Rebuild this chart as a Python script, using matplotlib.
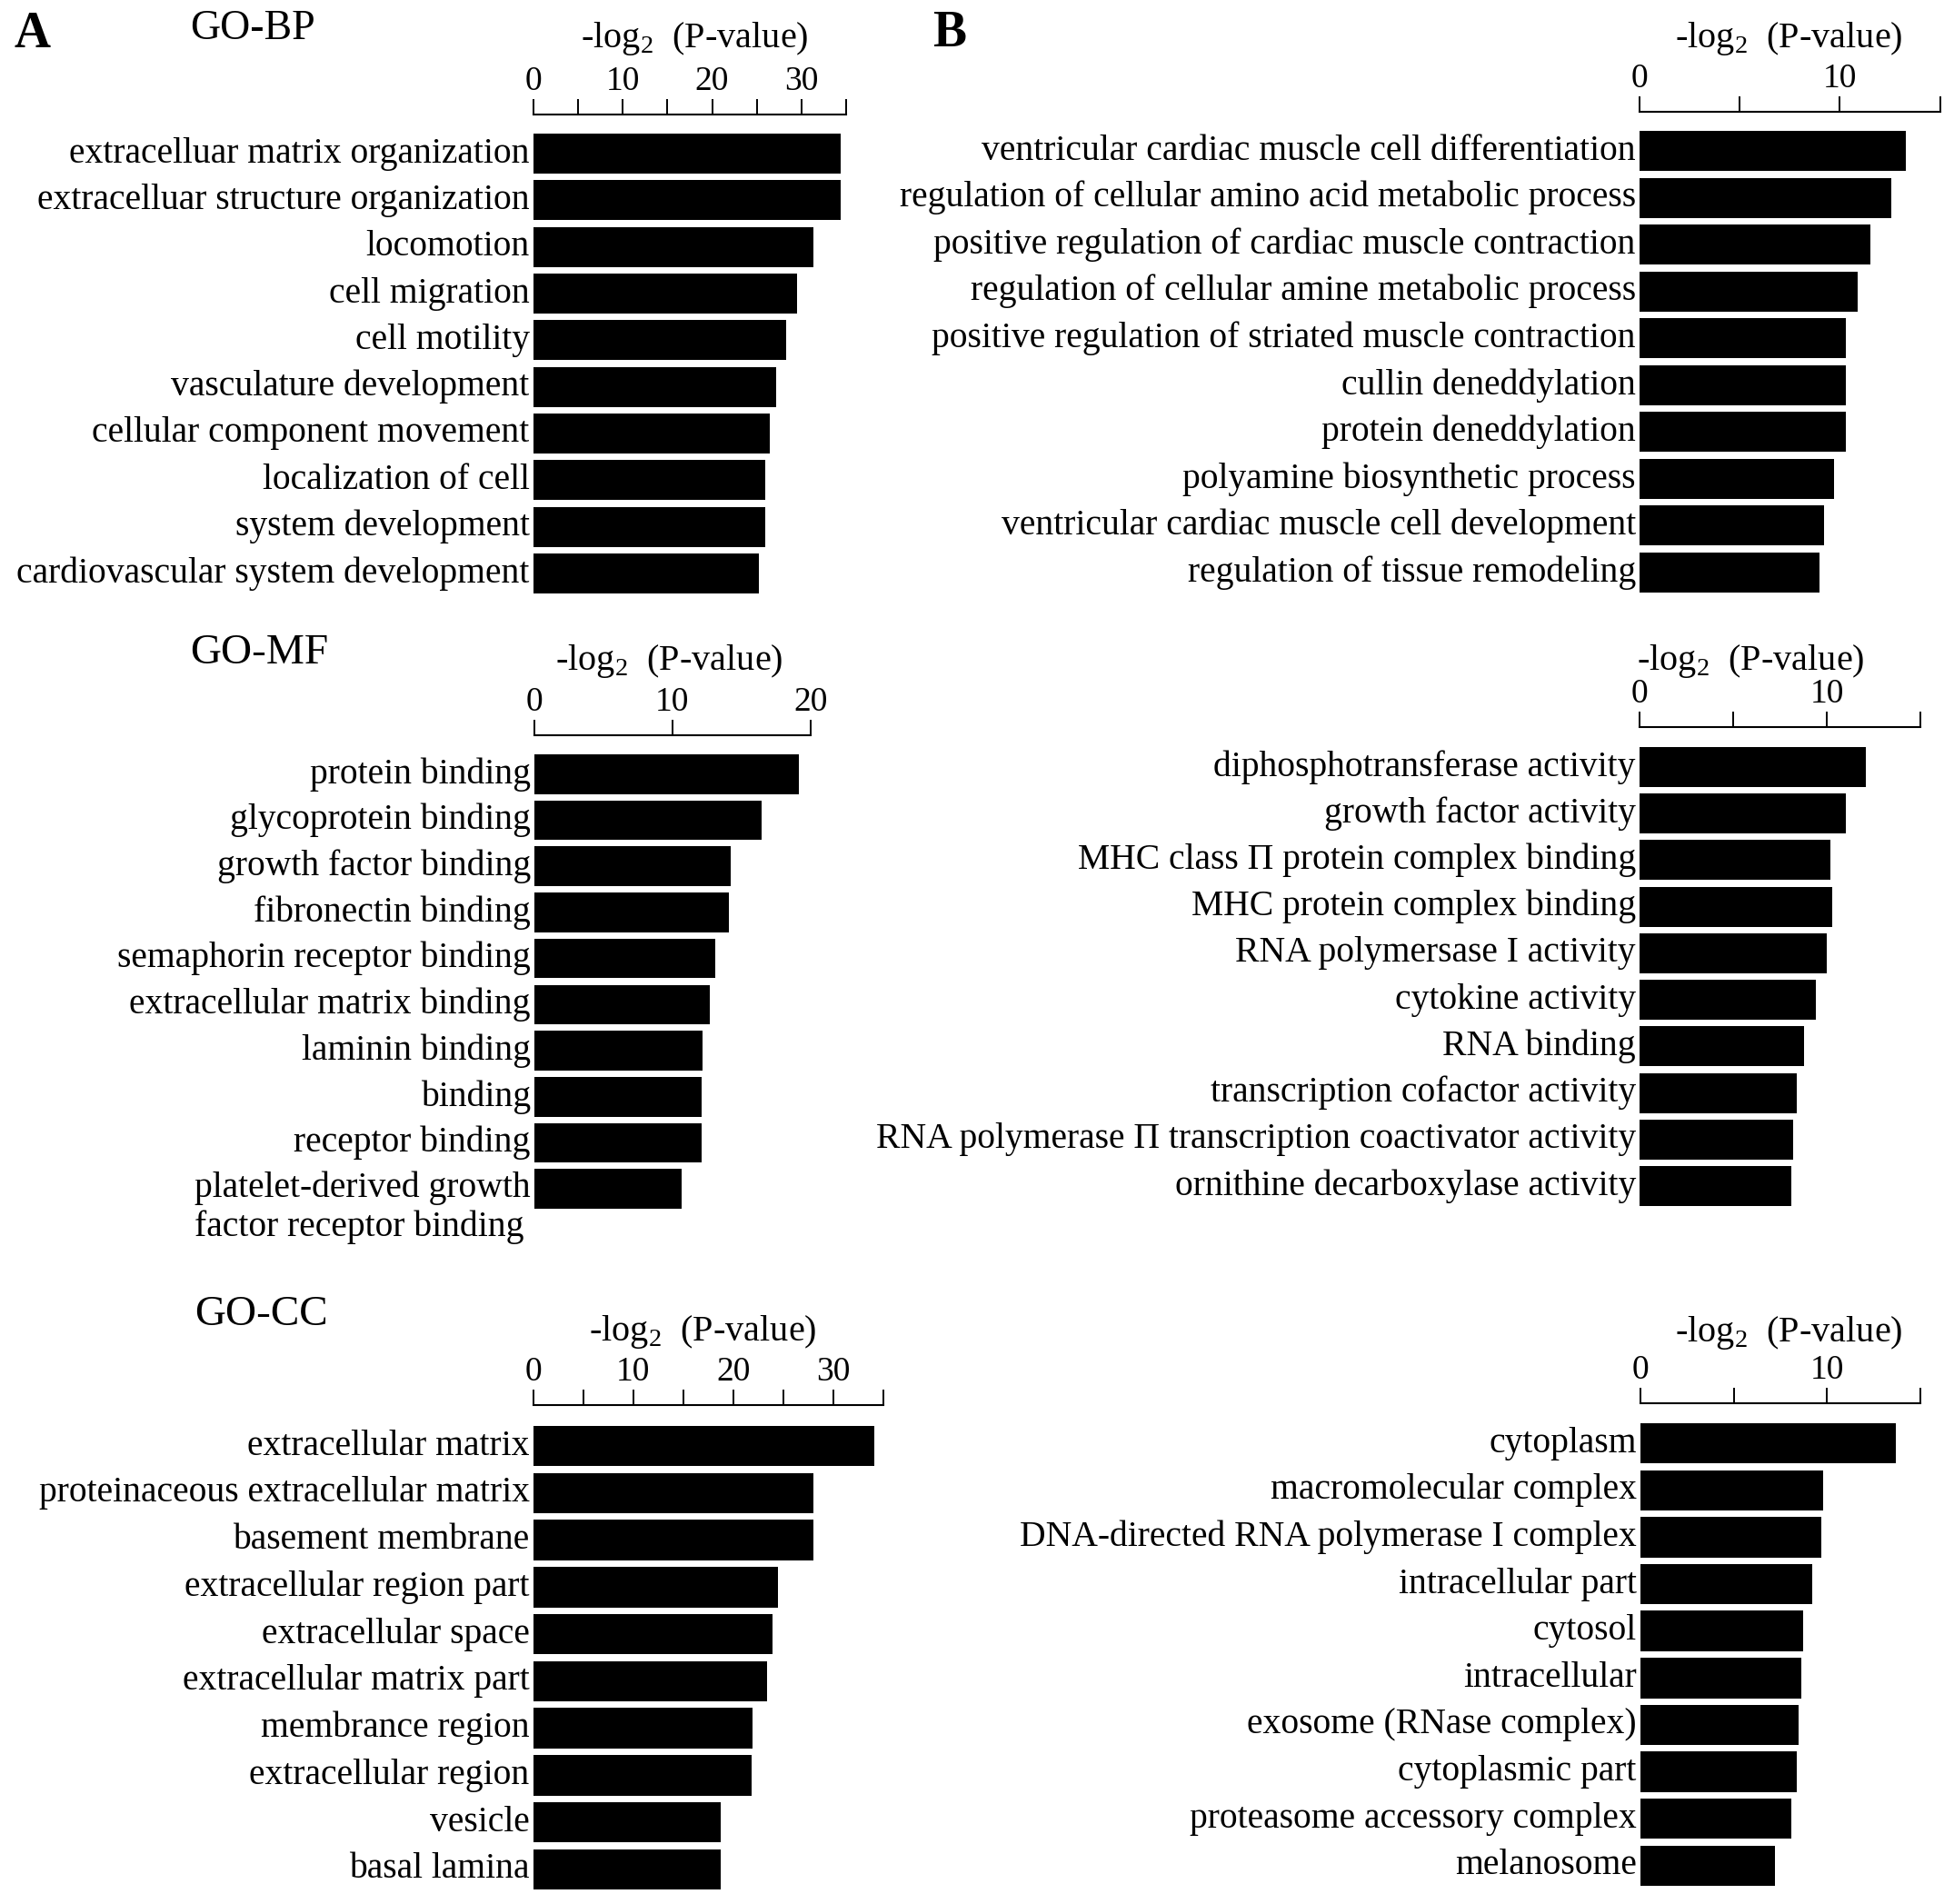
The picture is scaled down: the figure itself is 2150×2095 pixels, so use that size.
" GO enrichment bar panels (A: left column, B: right column) "
import numpy as np
import matplotlib
matplotlib.use("Agg")
import matplotlib.pyplot as plt
from matplotlib.transforms import blended_transform_factory, offset_copy

plt.rcParams.update({"font.family": ["Liberation Serif", "DejaVu Serif"],
                     "mathtext.fontset": "custom",
                     "mathtext.rm": "Liberation Serif"})

# ---- data ----
bp_a_terms = ["extracelluar matrix organization",
              "extracelluar structure organization",
              "locomotion", "cell migration", "cell motility",
              "vasculature development", "cellular component movement",
              "localization of cell", "system development",
              "cardiovascular system development"]
bp_a_vals = [34.4, 34.4, 31.3, 29.5, 28.3, 27.2, 26.5, 25.9, 25.9, 25.2]

bp_b_terms = ["ventricular cardiac muscle cell differentiation",
              "regulation of cellular amino acid metabolic process",
              "positive regulation of cardiac muscle contraction",
              "regulation of cellular amine metabolic process",
              "positive regulation of striated muscle contraction",
              "cullin deneddylation", "protein deneddylation",
              "polyamine biosynthetic process",
              "ventricular cardiac muscle cell development",
              "regulation of tissue remodeling"]
bp_b_vals = [13.3, 12.55, 11.5, 10.9, 10.3, 10.3, 10.3, 9.7, 9.2, 9.0]

mf_a_terms = ["protein binding", "glycoprotein binding",
              "growth factor binding", "fibronectin binding",
              "semaphorin receptor binding", "extracellular matrix binding",
              "laminin binding", "binding", "receptor binding",
              "platelet-derived growth\nfactor receptor binding"]
mf_a_vals = [19.2, 16.5, 14.2, 14.1, 13.1, 12.7, 12.2, 12.1, 12.1, 10.7]

mf_b_terms = ["diphosphotransferase activity", "growth factor activity",
              "MHC class \u03a0 protein complex binding",
              "MHC protein complex binding", "RNA polymersase I activity",
              "cytokine activity", "RNA binding",
              "transcription cofactor activity",
              "RNA polymerase \u03a0 transcription coactivator activity",
              "ornithine decarboxylase activity"]
mf_b_vals = [12.1, 11.0, 10.2, 10.3, 10.0, 9.4, 8.8, 8.4, 8.2, 8.1]

cc_a_terms = ["extracellular matrix", "proteinaceous extracellular matrix",
              "basement membrane", "extracellular region part",
              "extracellular space", "extracellular matrix part",
              "membrance region", "extracellular region", "vesicle",
              "basal lamina"]
cc_a_vals = [34.1, 28.0, 28.0, 24.5, 23.9, 23.4, 21.9, 21.8, 18.7, 18.7]

cc_b_terms = ["cytoplasm", "macromolecular complex",
              "DNA-directed RNA polymerase I complex", "intracellular part",
              "cytosol", "intracellular", "exosome (RNase complex)",
              "cytoplasmic part", "proteasome accessory complex",
              "melanosome"]
cc_b_vals = [13.7, 9.8, 9.7, 9.2, 8.7, 8.6, 8.5, 8.4, 8.1, 7.2]

W, H = 2150, 2095
fig = plt.figure(figsize=(W / 100, H / 100), dpi=100)

XLAB = r"-log$_\mathregular{2}$  (P-value)"


def add_panel(terms, vals, box, xmax, majors, minors, lab_xy):
    " box = (x0, x1, axis line y, first bar top, last bar bottom) in pixels "
    x0, x1, line_y, first_top, last_bot = box
    n = len(terms)
    h = 0.86
    pitch = (last_bot - first_top) / (n - 1 + h)
    top = (first_top - line_y) / pitch + h / 2
    ax = fig.add_axes([x0 / W, 1 - last_bot / H, (x1 - x0) / W,
                       (last_bot - line_y) / H])
    ax.barh(np.arange(n), vals, height=h, color="black")
    ax.set_xlim(0, xmax)
    ax.set_ylim(n - 1 + h / 2, -top)

    for s in ["left", "right", "bottom"]:
        ax.spines[s].set_visible(False)
    ax.spines["top"].set_linewidth(1.5)
    ax.xaxis.tick_top()
    ax.set_xticks(majors)
    ax.set_xticks(minors, minor=True)
    ax.tick_params(axis="x", which="both", direction="out", length=12,
                   width=1.4, top=True, bottom=False, labeltop=True,
                   labelbottom=False, pad=2, labelsize=27)
    ax.set_yticks([])

    ax.set_xlabel(XLAB, fontsize=29, va="center")
    ax.xaxis.set_label_position("top")
    ax.xaxis.set_label_coords((lab_xy[0] - x0) / (x1 - x0),
                              1 + (line_y - lab_xy[1]) / (last_bot - line_y))

    trans = blended_transform_factory(ax.transAxes, ax.transData)
    for i, t in enumerate(terms):
        nl = t.count("\n")
        tr = offset_copy(trans, fig=fig, x=-3, y=-nl * 15, units="points")
        ax.text(0, i, t, transform=tr, ha="right", va="center",
                multialignment="left", fontsize=28.5)
    return ax


add_panel(bp_a_terms, bp_a_vals, (586.7, 931.1, 126, 147, 653), 35,
          [0, 10, 20, 30], [5, 15, 25, 35], (764, 52))
add_panel(bp_b_terms, bp_b_vals, (1804, 2134.7, 123, 144, 652), 15,
          [0, 10], [5, 15], (1968, 52))
add_panel(mf_a_terms, mf_a_vals, (588, 891.6, 809.5, 830, 1330), 20,
          [0, 10, 20], [], (736, 737))
add_panel(mf_b_terms, mf_b_vals, (1804, 2113, 800.5, 822, 1327), 15,
          [0, 10], [5, 15], (1926, 737))
add_panel(cc_a_terms, cc_a_vals, (586.7, 972, 1546, 1569, 2079), 35,
          [0, 10, 20, 30], [5, 15, 25, 35], (773, 1475))
add_panel(cc_b_terms, cc_b_vals, (1804.8, 2113, 1544, 1566, 2075), 15,
          [0, 10], [5, 15], (1968, 1476))

# panel letters and section titles
fig.text(16 / W, 1 - 38 / H, "A", fontsize=40, weight="bold", va="center")
fig.text(1026 / W, 1 - 37 / H, "B", fontsize=40, weight="bold", va="center")
fig.text(209 / W, 1 - 32 / H, "GO-BP", fontsize=33, va="center")
fig.text(209 / W, 1 - 719 / H, "GO-MF", fontsize=34, va="center")
fig.text(214 / W, 1 - 1447 / H, "GO-CC", fontsize=34, va="center")

fig.savefig("out.png", dpi=100)
